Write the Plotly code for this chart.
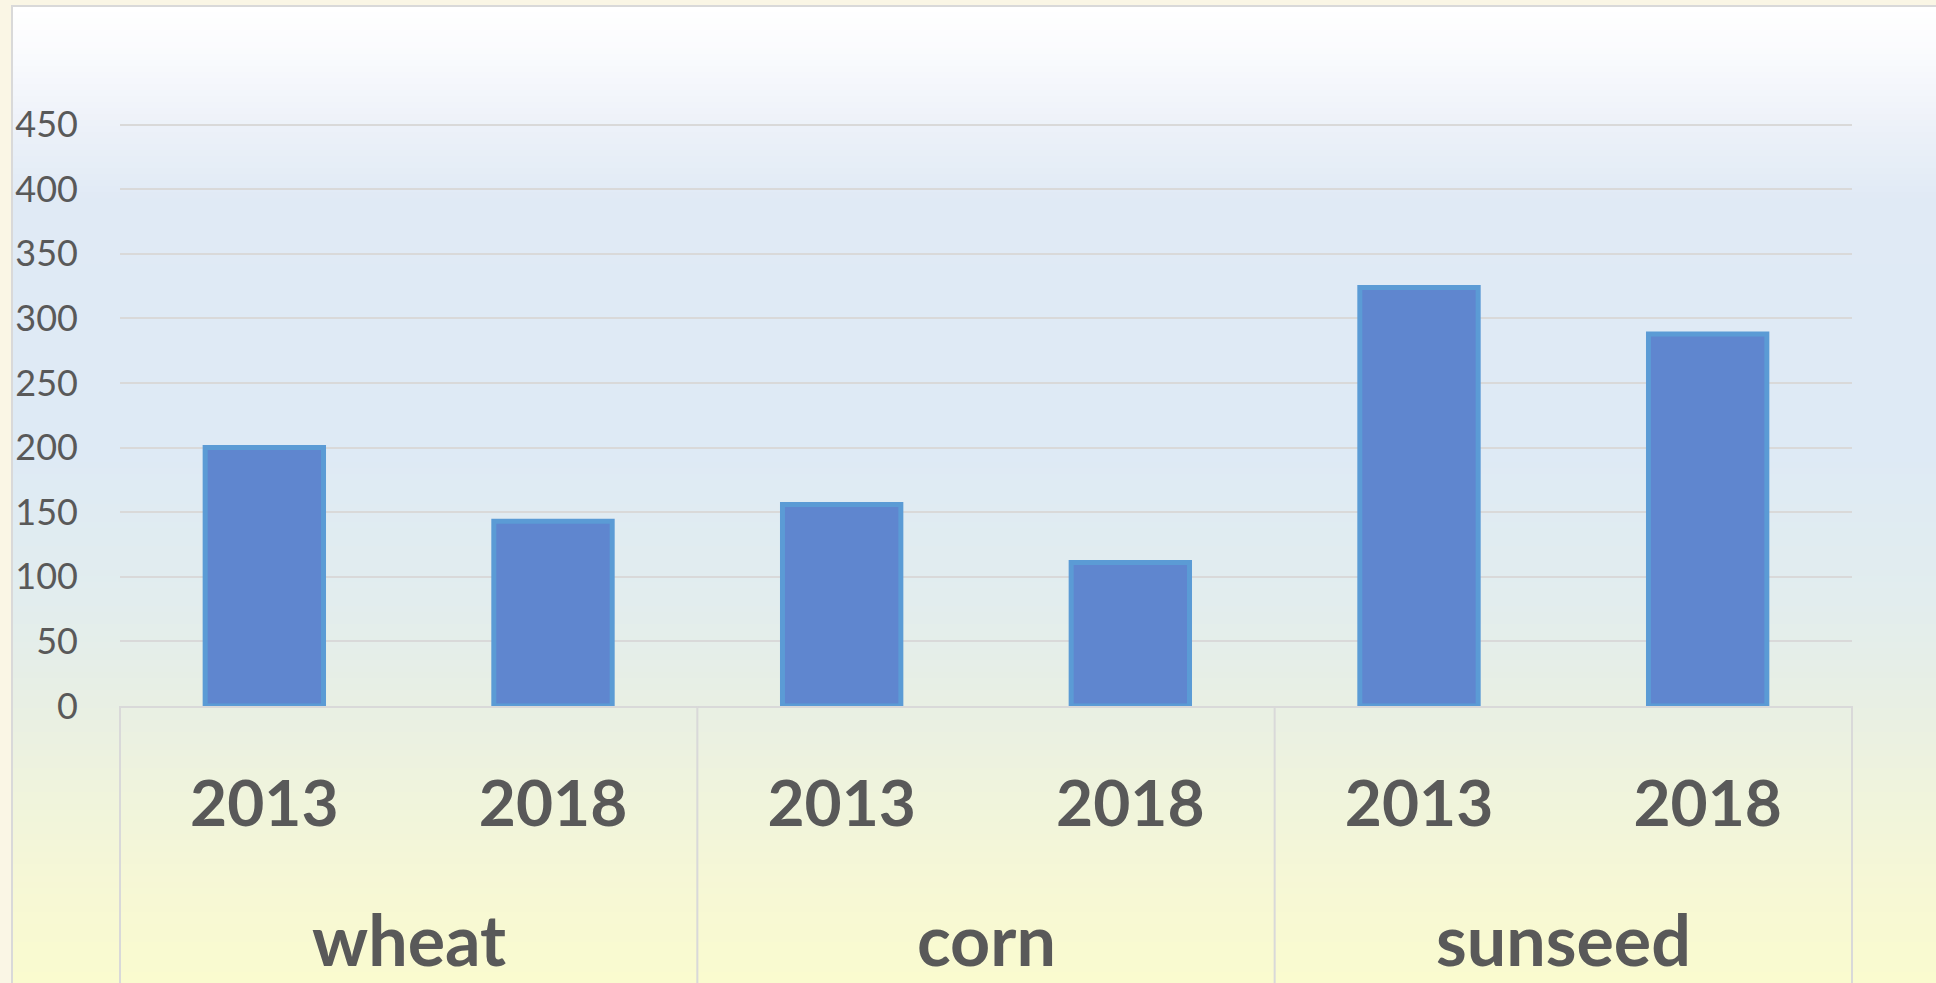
import plotly.graph_objects as go

# ---- data ----
categories = ["wheat", "corn", "sunseed"]
years = ["2013", "2018"]
values_2013 = [200, 156, 324]
values_2018 = [143, 111, 288]
y_ticks = [0, 50, 100, 150, 200, 250, 300, 350, 400, 450]

# flatten into bar positions (index) with year labels
bar_labels, vals = [], []
for i, c in enumerate(categories):
    for y, v in zip(years, [values_2013[i], values_2018[i]]):
        bar_labels.append(y)
        vals.append(v)
idx = list(range(len(vals)))
n_years = len(years)

W, H = 1936, 983
ML, MR, MT, MB = 120, 84, 122, 277
PW, PH = W - ML - MR, H - MT - MB
TEXT = "#595959"
GRID = "#D9D9D9"

fig = go.Figure()
fig.add_trace(go.Bar(
    x=idx, y=vals,
    marker=dict(color="#5F86CF", line=dict(color="#5B9BD5", width=5)),
    hovertext=[f"{categories[i // n_years]} {bar_labels[i]}" for i in idx],
    hoverinfo="text+y",
))


def px_to_paper_x(px):
    return (px - ML) / PW


def py_to_paper_y(py):
    return (H - MB - py) / PH


# background gradient (decorative) as horizontal strips
stops = [
    (6, (255, 255, 255)),
    (60, (249, 250, 253)),
    (120, (238, 242, 249)),
    (200, (224, 234, 245)),
    (450, (222, 234, 245)),
    (600, (226, 237, 238)),
    (700, (232, 239, 228)),
    (800, (240, 244, 220)),
    (900, (247, 248, 212)),
    (983, (250, 251, 207)),
]


def col_at(py):
    for (a, ca), (b, cb) in zip(stops[:-1], stops[1:]):
        if a <= py <= b:
            t = (py - a) / (b - a)
            return tuple(round(ca[k] + (cb[k] - ca[k]) * t) for k in range(3))
    return stops[-1][1]


shapes = []
step = 6
py = 6
while py < H:
    c = col_at(py + step / 2)
    shapes.append(dict(
        type="rect", xref="paper", yref="paper", layer="below",
        x0=px_to_paper_x(12), x1=px_to_paper_x(W + 10),
        y0=py_to_paper_y(min(py + step + 1, H + 10)), y1=py_to_paper_y(py),
        fillcolor="rgb(%d,%d,%d)" % c, line=dict(width=0),
    ))
    py += step
shapes.append(dict(
    type="rect", xref="paper", yref="paper", layer="below",
    x0=px_to_paper_x(12), x1=px_to_paper_x(W + 10),
    y0=py_to_paper_y(H + 10), y1=py_to_paper_y(6),
    fillcolor="rgba(0,0,0,0)", line=dict(color=GRID, width=2),
))

# group dividers (between category groups, incl. both ends)
n_bars = len(vals)
for g in range(len(categories) + 1):
    xp = (g * n_years) / n_bars
    shapes.append(dict(
        type="line", xref="paper", yref="paper", layer="above",
        x0=xp, x1=xp, y0=0, y1=py_to_paper_y(H + 10),
        line=dict(color=GRID, width=2),
    ))

# group labels
annotations = []
for g, c in enumerate(categories):
    annotations.append(dict(
        text=c, xref="x", yref="paper",
        x=g * n_years + (n_years - 1) / 2, y=py_to_paper_y(H),
        xanchor="center", yanchor="bottom", showarrow=False,
        font=dict(family="Lato", size=70, color=TEXT, weight="bold"),
    ))

fig.update_layout(
    width=W, height=H,
    margin=dict(l=ML, r=MR, t=MT, b=MB, pad=0),
    paper_bgcolor="#FAF6E5",
    plot_bgcolor="rgba(0,0,0,0)",
    bargap=0.59,
    showlegend=False,
    shapes=shapes,
    annotations=annotations,
    font=dict(family="Lato", color=TEXT),
)
fig.update_yaxes(
    range=[0, 452], tickvals=y_ticks,
    gridcolor=GRID, gridwidth=2, zeroline=False, showline=False,
    tickfont=dict(family="Lato", size=36, color=TEXT),
    ticklabelstandoff=41,
)
fig.update_xaxes(
    range=[-0.5, n_bars - 0.5],
    tickvals=idx, ticktext=bar_labels,
    showline=True, linecolor=GRID, linewidth=2,
    tickfont=dict(family="Lato", size=64, color=TEXT, weight="bold"),
    ticks="outside", ticklen=41, tickcolor="rgba(0,0,0,0)",
    showgrid=False, zeroline=False,
)

fig.write_html(
    "out.html",
    config={"displayModeBar": False},
    post_script="document.body.style.margin='0';document.body.style.background='#FAF6E5';",
)
